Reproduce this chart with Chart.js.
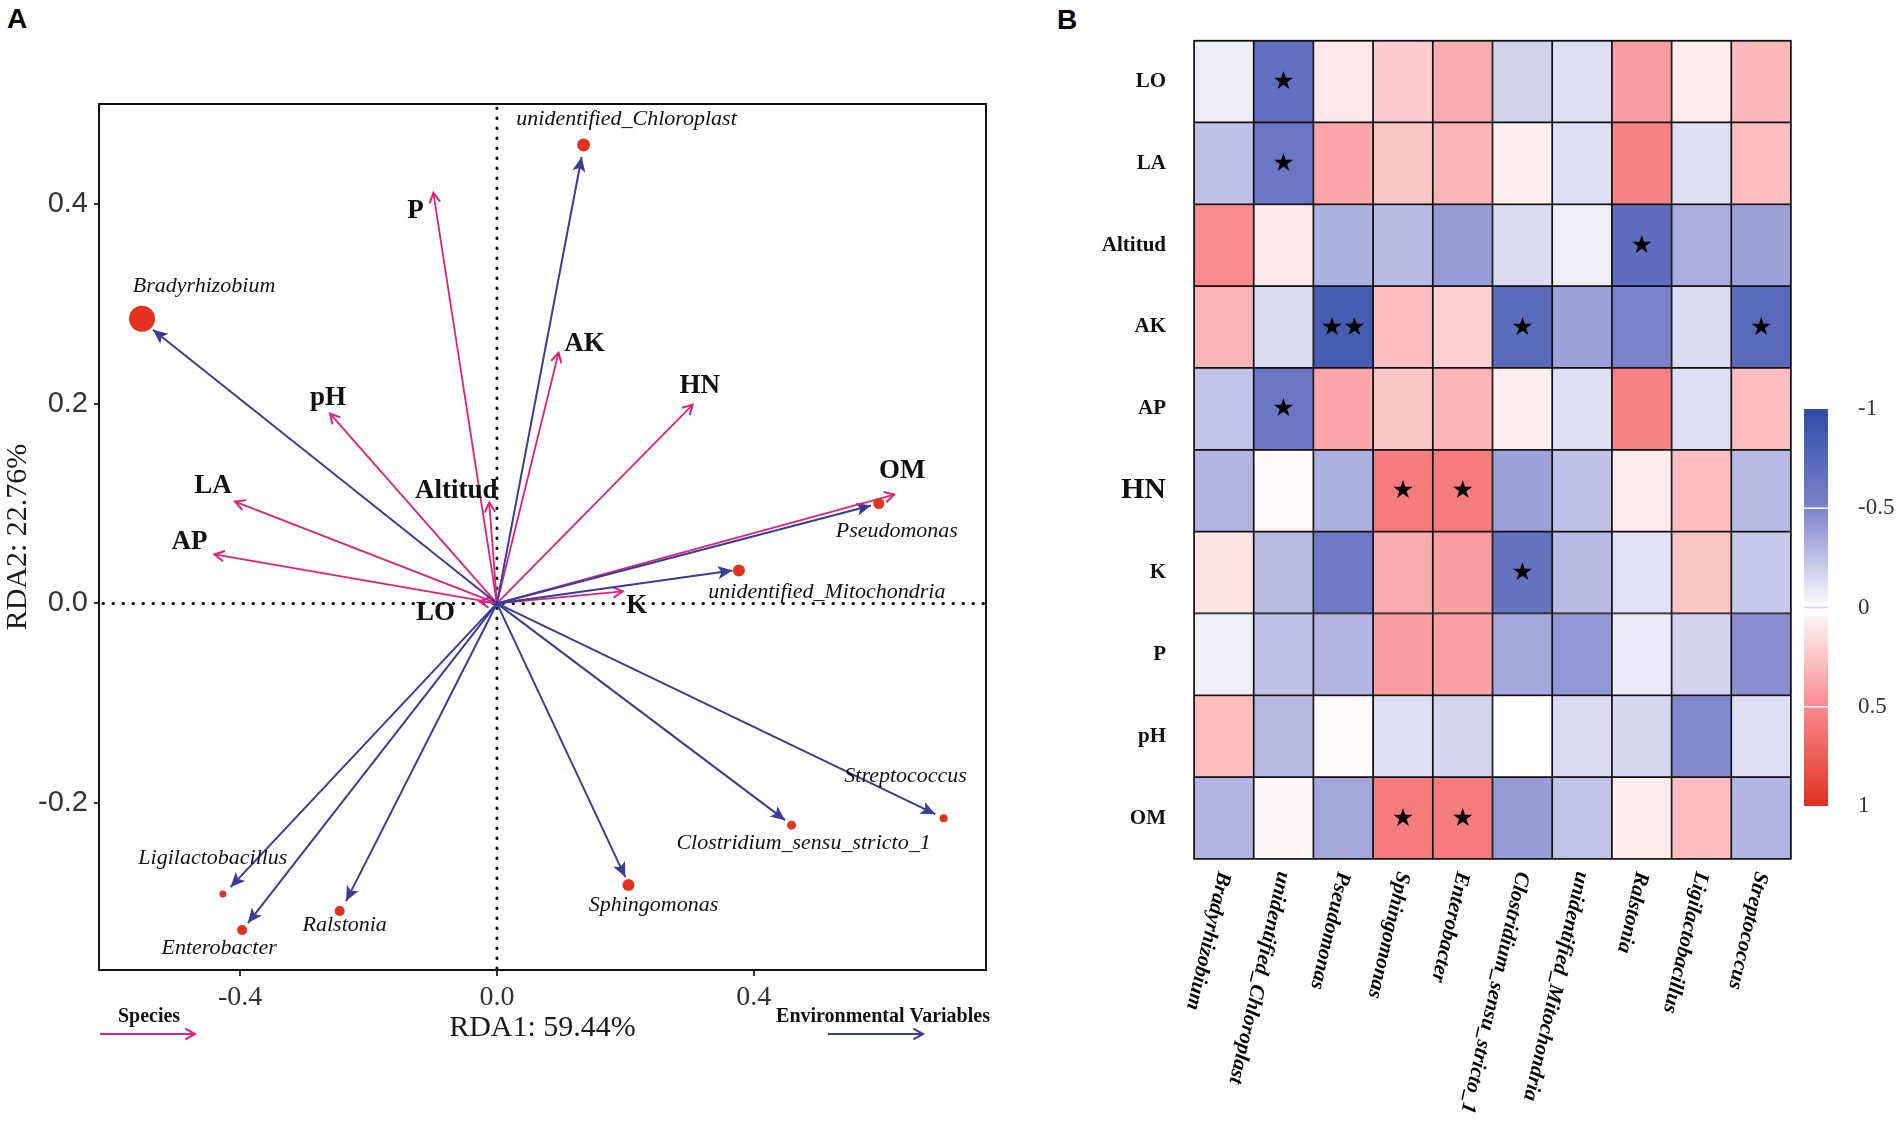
<!DOCTYPE html>
<html>
<head>
<meta charset="utf-8">
<script src="https://cdn.jsdelivr.net/npm/chart.js@4.4.1/dist/chart.umd.min.js"></script>
<style>
  html, body { margin: 0; padding: 0; background: #fff; }
  body { width: 1902px; height: 1135px; position: relative; overflow: hidden; }
  .panel { position: absolute; top: 0; height: 1135px; }
  #wrapA { left: 0; width: 1000px; }
  #wrapB { left: 1000px; width: 902px; }
  .tag { position: absolute; font: bold 28px "Liberation Sans", Arial, sans-serif; line-height: 1; color: #000; }
</style>
</head>
<body>
<div class="tag" style="left:7px;top:5px">A</div>
<div class="tag" style="left:1057px;top:6px">B</div>
<div class="panel" id="wrapA"><canvas id="rdaChart"></canvas></div>
<div class="panel" id="wrapB"><canvas id="heatChart"></canvas></div>
<script>
// ---------- panel A : RDA biplot ----------
const speciesNames = ["Bradyrhizobium", "unidentified_Chloroplast", "Pseudomonas", "unidentified_Mitochondria",
  "Streptococcus", "Clostridium_sensu_stricto_1", "Sphingomonas", "Ralstonia", "Enterobacter", "Ligilactobacillus"];
const speciesX = [-0.553, 0.135, 0.595, 0.377, 0.696, 0.459, 0.205, -0.245, -0.397, -0.427];
const speciesY = [0.285, 0.459, 0.100, 0.033, -0.215, -0.222, -0.282, -0.308, -0.327, -0.291];
const speciesArrowX = [-0.536, 0.132, 0.583, 0.367, 0.683, 0.449, 0.200, -0.235, -0.388, -0.415];
const speciesArrowY = [0.274, 0.447, 0.098, 0.033, -0.211, -0.217, -0.274, -0.298, -0.320, -0.284];

const envNames = ["P", "AK", "HN", "pH", "LA", "AP", "Altitud", "OM", "K", "LO"];
const envX = [-0.099, 0.096, 0.305, -0.260, -0.408, -0.440, -0.012, 0.619, 0.196, -0.027];
const envY = [0.411, 0.251, 0.199, 0.190, 0.102, 0.049, 0.101, 0.109, 0.012, 0.002];

const xTicks = [-0.4, 0.0, 0.4];
const yTicks = [-0.2, 0.0, 0.2, 0.4];

// styling (pixels)
const dotRadius = [13, 6.5, 5.5, 6, 4, 4.5, 6, 5, 5, 3.5];
const speciesLabelOffset = [[62, -33], [43, -26], [18, 28], [88, 22], [-38, -42], [12, 18], [25, 20], [5, 14], [-23, 18], [-10, -36]];
const envLabelOffset = [[-18, 18], [26, -9], [7, -19], [-2, -16], [-22, -16], [-25, -12], [-33, -12], [8, -24], [14, 15], [-44, 12]];

const PINK = "#E0207A";
const BLUE = "#3B3B9A";
const DOT = "#E3321E";
const SERIF = '"Liberation Serif", "Times New Roman", serif';
const SANS = '"Liberation Sans", Arial, sans-serif';

function arrowHead(ctx, x0, y0, x1, y1, closed, color) {
  const a = Math.atan2(y1 - y0, x1 - x0);
  const len = closed ? 16 : 11;
  const spread = closed ? 0.42 : 0.5;
  const lx = x1 - len * Math.cos(a - spread), ly = y1 - len * Math.sin(a - spread);
  const rx = x1 - len * Math.cos(a + spread), ry = y1 - len * Math.sin(a + spread);
  ctx.beginPath();
  if (closed) {
    ctx.moveTo(x1, y1);
    ctx.lineTo(lx, ly);
    ctx.lineTo(x1 - len * 0.7 * Math.cos(a), y1 - len * 0.7 * Math.sin(a));
    ctx.lineTo(rx, ry);
    ctx.closePath();
    ctx.fillStyle = color;
    ctx.fill();
  } else {
    ctx.moveTo(lx, ly);
    ctx.lineTo(x1, y1);
    ctx.lineTo(rx, ry);
    ctx.strokeStyle = color;
    ctx.lineWidth = 2;
    ctx.stroke();
  }
}

const rdaDecor = {
  id: "rdaDecor",
  beforeDatasetsDraw(chart) {
    const { ctx, chartArea: a, scales: { x, y } } = chart;
    const x0 = x.getPixelForValue(0), y0 = y.getPixelForValue(0);
    ctx.save();
    ctx.strokeStyle = "#111";
    ctx.lineWidth = 3;
    ctx.lineCap = "round";
    ctx.setLineDash([0.5, 9.5]);
    ctx.beginPath();
    ctx.moveTo(a.left + 4, y0); ctx.lineTo(a.right, y0);
    ctx.moveTo(x0, a.top + 4); ctx.lineTo(x0, a.bottom);
    ctx.stroke();
    ctx.setLineDash([]);
    ctx.lineCap = "butt";
    envNames.forEach((n, i) => arrowHead(ctx, x0, y0, x.getPixelForValue(envX[i]), y.getPixelForValue(envY[i]), false, PINK));
    speciesNames.forEach((n, i) => arrowHead(ctx, x0, y0, x.getPixelForValue(speciesArrowX[i]), y.getPixelForValue(speciesArrowY[i]), true, BLUE));
    ctx.restore();
  },
  afterDatasetsDraw(chart) {
    const { ctx, scales: { x, y } } = chart;
    ctx.save();
    ctx.textAlign = "center";
    ctx.textBaseline = "middle";
    ctx.fillStyle = "#111";
    ctx.font = "italic 22px " + SERIF;
    speciesNames.forEach((n, i) => {
      const [dx, dy] = speciesLabelOffset[i];
      ctx.fillText(n, x.getPixelForValue(speciesX[i]) + dx, y.getPixelForValue(speciesY[i]) + dy);
    });
    ctx.font = "bold 27px " + SERIF;
    envNames.forEach((n, i) => {
      const [dx, dy] = envLabelOffset[i];
      ctx.fillText(n, x.getPixelForValue(envX[i]) + dx, y.getPixelForValue(envY[i]) + dy);
    });
    ctx.restore();
  },
  afterDraw(chart) {
    const { ctx, chartArea: a } = chart;
    ctx.save();
    ctx.strokeStyle = "#111";
    ctx.lineWidth = 2;
    ctx.strokeRect(a.left, a.top, a.right - a.left, a.bottom - a.top);
    // legend
    ctx.fillStyle = "#111";
    ctx.textAlign = "center";
    ctx.textBaseline = "middle";
    ctx.font = "bold 20px " + SERIF;
    ctx.fillText("Species", a.left + 50, a.bottom + 47);
    ctx.fillText("Environmental Variables", a.right - 103, a.bottom + 47);
    const ly = a.bottom + 64;
    [[a.left + 1, a.left + 96, PINK], [a.right - 158, a.right - 63, BLUE]].forEach(([s, e, c]) => {
      ctx.beginPath();
      ctx.moveTo(s, ly); ctx.lineTo(e, ly);
      ctx.strokeStyle = c; ctx.lineWidth = 1.8; ctx.stroke();
      arrowHead(ctx, s, ly, e, ly, false, c);
    });
    ctx.restore();
  }
};

const rdaDatasets = [{
  data: speciesNames.map((n, i) => ({ x: speciesX[i], y: speciesY[i] })),
  pointRadius: dotRadius,
  pointHoverRadius: dotRadius,
  backgroundColor: DOT,
  borderWidth: 0
}];
speciesNames.forEach((n, i) => rdaDatasets.push({
  data: [{ x: 0, y: 0 }, { x: speciesArrowX[i], y: speciesArrowY[i] }],
  showLine: true, borderColor: BLUE, borderWidth: 2, pointRadius: 0
}));
envNames.forEach((n, i) => rdaDatasets.push({
  data: [{ x: 0, y: 0 }, { x: envX[i], y: envY[i] }],
  showLine: true, borderColor: PINK, borderWidth: 1.8, pointRadius: 0
}));

new Chart(document.getElementById("rdaChart"), {
  type: "scatter",
  data: { datasets: rdaDatasets },
  options: {
    responsive: true,
    maintainAspectRatio: false,
    animation: false,
    events: [],
    layout: { padding: { left: 0, top: 104, right: 14, bottom: 0 } },
    plugins: { legend: { display: false }, tooltip: { enabled: false } },
    scales: {
      x: {
        type: "linear", min: -0.62, max: 0.762,
        afterBuildTicks: s => { s.ticks = xTicks.map(v => ({ value: v })); },
        afterFit: s => { s.height = 165; },
        grid: { drawOnChartArea: false, drawTicks: true, tickLength: 6, color: "#333", lineWidth: 2 },
        border: { display: false },
        ticks: { color: "#333", font: { family: SERIF, size: 28 }, padding: 5, callback: v => Number(v).toFixed(1) },
        title: { display: true, text: "RDA1: 59.44%", color: "#1a1a1a", font: { family: SERIF, size: 30 }, padding: { top: 0, bottom: 89 } }
      },
      y: {
        type: "linear", min: -0.367, max: 0.5,
        afterBuildTicks: s => { s.ticks = yTicks.map(v => ({ value: v })); },
        afterFit: s => { s.width = 99; },
        grid: { drawOnChartArea: false, drawTicks: true, tickLength: 5, color: "#333", lineWidth: 2 },
        border: { display: false },
        ticks: { color: "#333", font: { family: SANS, size: 29 }, padding: 6, callback: v => Number(v).toFixed(1) },
        title: { display: true, text: "RDA2: 22.76%", color: "#1a1a1a", font: { family: SERIF, size: 30 }, padding: { top: 0, bottom: 0 } }
      }
    }
  },
  plugins: [rdaDecor]
});

// ---------- panel B : correlation heatmap ----------
const heatRows = ["LO", "LA", "Altitud", "AK", "AP", "HN", "K", "P", "pH", "OM"];
const heatCols = ["Bradyrhizobium", "unidentified_Chloroplast", "Pseudomonas", "Sphingomonas", "Enterobacter",
  "Clostridium_sensu_stricto_1", "unidentified_Mitochondria", "Ralstonia", "Ligilactobacillus", "Streptococcus"];
const corrLO      = [-0.07, -0.68, 0.10, 0.22, 0.35, -0.18, -0.13, 0.42, 0.08, 0.30];
const corrLA      = [-0.25, -0.62, 0.38, 0.25, 0.32, 0.07, -0.13, 0.55, -0.13, 0.28];
const corrAltitud = [0.50, 0.10, -0.32, -0.28, -0.40, -0.14, -0.06, -0.70, -0.33, -0.38];
const corrAK      = [0.32, -0.14, -0.85, 0.28, 0.20, -0.72, -0.38, -0.52, -0.14, -0.72];
const corrAP      = [-0.24, -0.62, 0.38, 0.25, 0.32, 0.07, -0.13, 0.55, -0.13, 0.28];
const corrHN      = [-0.30, 0.02, -0.32, 0.58, 0.58, -0.38, -0.25, 0.08, 0.28, -0.28];
const corrK       = [0.12, -0.27, -0.58, 0.35, 0.42, -0.65, -0.28, -0.12, 0.25, -0.22];
const corrP       = [-0.06, -0.25, -0.30, 0.42, 0.40, -0.35, -0.42, -0.08, -0.18, -0.45];
const corrPH      = [0.28, -0.28, 0.02, -0.13, -0.17, 0.00, -0.14, -0.16, -0.48, -0.13];
const corrOM      = [-0.30, 0.03, -0.36, 0.58, 0.58, -0.40, -0.24, 0.08, 0.28, -0.30];
const corrMatrix = [corrLO, corrLA, corrAltitud, corrAK, corrAP, corrHN, corrK, corrP, corrPH, corrOM];

const signif = [
  ["", "★", "", "", "", "", "", "", "", ""],
  ["", "★", "", "", "", "", "", "", "", ""],
  ["", "", "", "", "", "", "", "★", "", ""],
  ["", "", "★★", "", "", "★", "", "", "", "★"],
  ["", "★", "", "", "", "", "", "", "", ""],
  ["", "", "", "★", "★", "", "", "", "", ""],
  ["", "", "", "", "", "★", "", "", "", ""],
  ["", "", "", "", "", "", "", "", "", ""],
  ["", "", "", "", "", "", "", "", "", ""],
  ["", "", "", "★", "★", "", "", "", "", ""]
];
const colorbarTicks = [-1, -0.5, 0, 0.5, 1];

const colorStops = [[-1, [46, 76, 166]], [-0.5, [126, 131, 205]], [0, [255, 255, 255]], [0.5, [248, 138, 143]], [1, [224, 48, 30]]];
function corrColor(v) {
  for (let i = 0; i < colorStops.length - 1; i++) {
    const [v0, c0] = colorStops[i], [v1, c1] = colorStops[i + 1];
    if (v <= v1 || i === colorStops.length - 2) {
      const t = Math.max(0, Math.min(1, (v - v0) / (v1 - v0)));
      const c = c0.map((k, j) => Math.round(k + (c1[j] - k) * t));
      return `rgb(${c[0]},${c[1]},${c[2]})`;
    }
  }
}

const heatDecor = {
  id: "heatDecor",
  afterDatasetsDraw(chart) {
    const { ctx, chartArea: a, scales: { x, y2 } } = chart;
    ctx.save();
    ctx.strokeStyle = "#111";
    ctx.lineWidth = 1.5;
    ctx.strokeRect(a.left, a.top, a.right - a.left, a.bottom - a.top);

    ctx.fillStyle = "#000";
    ctx.textAlign = "center";
    ctx.textBaseline = "middle";
    ctx.font = '25px "DejaVu Sans", sans-serif';
    signif.forEach((row, ri) => row.forEach((s, ci) => {
      if (s) ctx.fillText(s, x.getPixelForValue(ci), y2.getPixelForValue(ri) + 1);
    }));

    ctx.font = "italic bold 21px " + SERIF;
    ctx.textAlign = "left";
    heatCols.forEach((c, ci) => {
      ctx.save();
      ctx.translate(x.getPixelForValue(ci), a.bottom + 13);
      ctx.rotate(103 * Math.PI / 180);
      ctx.fillText(c, 0, 0);
      ctx.restore();
    });

    // colour bar
    const cbL = a.right + 13, cbW = 24, cbT = 409, cbB = 806;
    const grad = ctx.createLinearGradient(0, cbT, 0, cbB);
    colorStops.forEach(([v]) => grad.addColorStop((v + 1) / 2, corrColor(v)));
    ctx.fillStyle = grad;
    ctx.fillRect(cbL, cbT, cbW, cbB - cbT);
    ctx.font = "23px " + SERIF;
    ctx.fillStyle = "#333";
    colorbarTicks.forEach(v => {
      const py = cbT + (v + 1) / 2 * (cbB - cbT);
      if (v > -1 && v < 1) {
        ctx.strokeStyle = v === 0 ? "#d8d8d8" : "#fff";
        ctx.lineWidth = 1.5;
        ctx.beginPath(); ctx.moveTo(cbL, py); ctx.lineTo(cbL + cbW, py); ctx.stroke();
      }
      ctx.fillText(String(v), cbL + 54, py);
    });
    ctx.restore();
  }
};

new Chart(document.getElementById("heatChart"), {
  type: "bar",
  data: {
    labels: heatCols,
    datasets: heatRows.map((r, ri) => ({
      label: r,
      data: heatCols.map(() => 1),
      backgroundColor: corrMatrix[ri].map(corrColor),
      borderColor: "#111",
      borderWidth: 1.2,
      borderSkipped: false,
      barPercentage: 1,
      categoryPercentage: 1
    })).reverse()
  },
  options: {
    responsive: true,
    maintainAspectRatio: false,
    animation: false,
    events: [],
    layout: { padding: { left: 0, top: 33, right: 111, bottom: 0 } },
    plugins: { legend: { display: false }, tooltip: { enabled: false } },
    scales: {
      x: {
        stacked: true,
        grid: { display: false, drawTicks: false },
        border: { display: false },
        ticks: { display: false },
        afterFit: s => { s.height = 276; }
      },
      y: { stacked: true, min: 0, max: heatRows.length, display: false },
      y2: {
        type: "category",
        labels: heatRows,
        position: "left",
        offset: true,
        grid: { display: false, drawTicks: false },
        border: { display: false },
        ticks: {
          color: "#111",
          padding: 28,
          font: c => ({ family: SERIF, weight: "bold", size: heatRows[c.index] === "HN" ? 30 : 21 })
        },
        afterFit: s => { s.width = 194; }
      }
    }
  },
  plugins: [heatDecor]
});
</script>
</body>
</html>
